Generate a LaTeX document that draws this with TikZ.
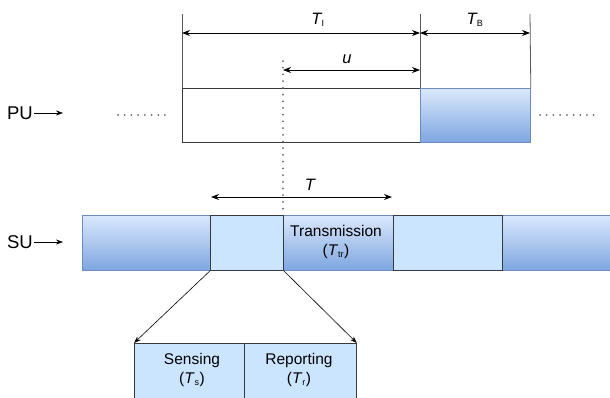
\documentclass[tikz,border=0pt]{standalone}
\usepackage{fontspec}
\setmainfont{Liberation Sans}
\usetikzlibrary{arrows.meta}
\definecolor{lblue}{HTML}{CCE5FF}
\definecolor{gtop}{HTML}{DAE8FC}
\definecolor{gbot}{HTML}{7EA6E0}
\definecolor{bblue}{HTML}{6C8EBF}
\definecolor{dgray}{HTML}{36393D}
\tikzset{
  gradbox/.style={draw=bblue, top color=gtop, bottom color=gbot, line width=0.8pt},
  lightbox/.style={draw=dgray, fill=lblue, line width=0.8pt},
  plainbox/.style={draw=dgray, line width=0.8pt},
  dim/.style={{Stealth[length=8pt,width=6pt]}-{Stealth[length=8pt,width=6pt]}, line width=0.8pt},
  guide/.style={draw=black!65, line width=0.8pt},
  conn/.style={-{Stealth[length=7pt,width=5pt]}, line width=0.6pt},
  dots/.style={draw=black!60, dash pattern=on 0.01pt off 6.7pt, line width=2pt, line cap=round},
  lbl/.style={font=\fontsize{18.5}{20}\selectfont, inner sep=0pt},
  tl/.style={font=\fontsize{16.5}{18}\selectfont\itshape, inner sep=0pt},
  txt/.style={font=\fontsize{15.5}{18.5}\selectfont, align=center, inner sep=0pt}
}
\newcommand{\sbs}[1]{\textsubscript{\fontsize{9}{10}\selectfont\upshape #1}}
\begin{document}
\begin{tikzpicture}[x=1pt,y=-1pt]
\useasboundingbox (0,0) rectangle (610,397);
% PU row
\node[plainbox, minimum width=238pt, minimum height=54pt, inner sep=0pt, anchor=north west] (pw) at (182,88) {};
\node[gradbox, minimum width=110pt, minimum height=54pt, inner sep=0pt, anchor=north west] (pb) at (420,88) {};
% guides
\coordinate (g1) at (182,14);
\coordinate (g2) at (420,14);
\coordinate (g3) at (530,14);
\draw[guide] (g1) -- (pw.north west);
\draw[guide] (g2) -- (pb.north west);
\draw[guide] (g3) -- (pb.north east);
\coordinate (a1) at (182,33);
\coordinate (a2) at (420,33);
\coordinate (a3) at (530,33);
\draw[dim] (a1) -- (a2);
\draw[dim] (a2) -- (a3);
\node[tl] (TI) at (318,20) {T\sbs{I}};
\node[tl] (TB) at (475,20) {T\sbs{B}};
\coordinate (u1) at (283,70);
\coordinate (u2) at (420,70);
\draw[dim] (u1) -- (u2);
\node[tl] (ul) at (347,59) {u};
% PU labels
\node[lbl] (PU) at (20,113) {PU};
\coordinate (pua) at (63,113);
\draw[conn] (PU.east) ++(1pt,0) -- (pua);
\coordinate (d1) at (118,115);
\coordinate (d2) at (165,115);
\draw[dots] (d1) -- (d2);
\coordinate (d3) at (540,115);
\coordinate (d4) at (600,115);
\draw[dots] (d3) -- (d4);
% SU row
\node[gradbox, minimum width=128pt, minimum height=55pt, inner sep=0pt, anchor=north west] (s0) at (82,215) {};
\node[gradbox, minimum width=110pt, minimum height=55pt, inner sep=0pt, anchor=north west] (s2) at (283,215) {};
\node[gradbox, minimum width=110pt, minimum height=55pt, inner sep=0pt, anchor=north west] (s4) at (502,215) {};
\node[lightbox, minimum width=73pt, minimum height=55pt, inner sep=0pt, anchor=north west] (s1) at (210,215) {};
\node[lightbox, minimum width=109pt, minimum height=55pt, inner sep=0pt, anchor=north west] (s3) at (393,215) {};
\node[txt] (tr) at (336,242) {Transmission\\(\textit{T}\sbs{tr})};
\node[lbl] (SU) at (20,242) {SU};
\coordinate (sua) at (63,242);
\draw[conn] (SU.east) ++(1pt,0) -- (sua);
% T arrow
\coordinate (t1) at (211,197);
\coordinate (t2) at (392,197);
\draw[dim] (t1) -- (t2);
\node[tl] (Tl) at (310,185) {T};
% dotted vertical
\coordinate (v1) at (283,61);
\draw[dots] (v1) -- (s2.north west);
% Sensing / Reporting
\node[lightbox, minimum width=110pt, minimum height=60pt, inner sep=0pt, anchor=north west] (sen) at (134,343) {};
\node[lightbox, minimum width=112pt, minimum height=60pt, inner sep=0pt, anchor=north west] (rep) at (244,343) {};
\node[txt] (sent) at (192,370) {Sensing\\(\textit{T}\sbs{s})};
\node[txt] (rept) at (299,370) {Reporting\\(\textit{T}\sbs{r})};
\draw[conn] (s1.south west) -- (sen.north west);
\draw[conn] (s1.south east) -- (rep.north east);
\end{tikzpicture}
\end{document}
